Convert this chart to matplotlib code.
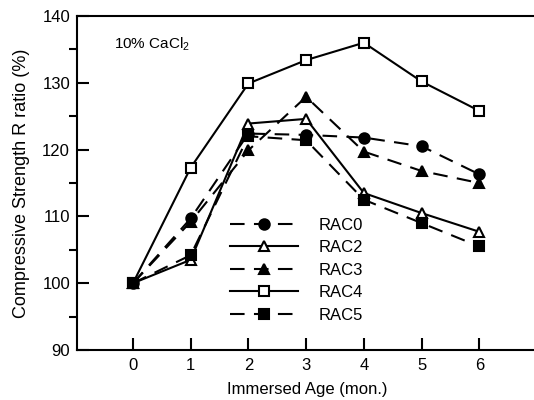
import matplotlib.pyplot as plt
from matplotlib.ticker import MultipleLocator

plt.rcParams["font.family"] = ["Liberation Sans", "DejaVu Sans"]

age = [0, 1, 2, 3, 4, 5, 6]
rac0 = [100, 109.7, 122.4, 122.2, 121.8, 120.5, 116.3]
rac2 = [100, 103.5, 123.9, 124.6, 113.5, 110.5, 107.7]
rac3 = [100, 109.2, 119.9, 127.9, 119.7, 116.8, 115.0]
rac4 = [100, 117.3, 129.9, 133.4, 136.0, 130.2, 125.8]
rac5 = [100, 104.2, 122.0, 121.4, 112.5, 109.0, 105.5]
names = ["RAC0", "RAC2", "RAC3", "RAC4", "RAC5"]

fig = plt.figure(figsize=(5.34, 4.0), dpi=100)
ax = fig.add_axes([77 / 534, 50 / 400, 460 / 534, 334 / 400])

dash = (7, 4.5)
styles = [
    dict(marker="o", mfc="black", ls="--", dashes=dash),
    dict(marker="^", mfc="white", ls="-"),
    dict(marker="^", mfc="black", ls="--", dashes=dash),
    dict(marker="s", mfc="white", ls="-"),
    dict(marker="s", mfc="black", ls="--", dashes=dash),
]
for vals, name, st in zip([rac0, rac2, rac3, rac4, rac5], names, styles):
    ax.plot(age, vals, color="black", lw=1.5, ms=7.5, mec="black", mew=1.5,
            label=name, **st)

ax.set_xlim(-0.97, 7.0)
ax.set_ylim(90, 140)
ax.set_xticks(age)
ax.yaxis.set_major_locator(MultipleLocator(10))
ax.yaxis.set_minor_locator(MultipleLocator(5))
ax.tick_params(direction="in", labelsize=12, width=1.5)
ax.tick_params(which="major", length=8.5)
ax.tick_params(which="minor", length=5.5, width=1.5)
ax.tick_params(axis="x", pad=6)
ax.tick_params(axis="y", pad=5)
ax.spines["right"].set_visible(False)
for s in ["left", "top", "bottom"]:
    ax.spines[s].set_linewidth(1.5)

ax.set_xlabel("Immersed Age (mon.)", fontsize=12, labelpad=6)
ax.set_ylabel("Compressive Strength R ratio (%)", fontsize=13, labelpad=9)
ax.text(114 / 100, (400 - 44) / 100, "10% CaCl$_\\mathregular{2}$",
        fontsize=11, transform=fig.dpi_scale_trans, va="center", ha="left")

ax.legend(loc="upper left", bbox_to_anchor=(0.3, 0.441), frameon=False,
          fontsize=12, handlelength=4.1, handletextpad=1.2, labelspacing=0.45)

fig.savefig("out.png", dpi=100)
